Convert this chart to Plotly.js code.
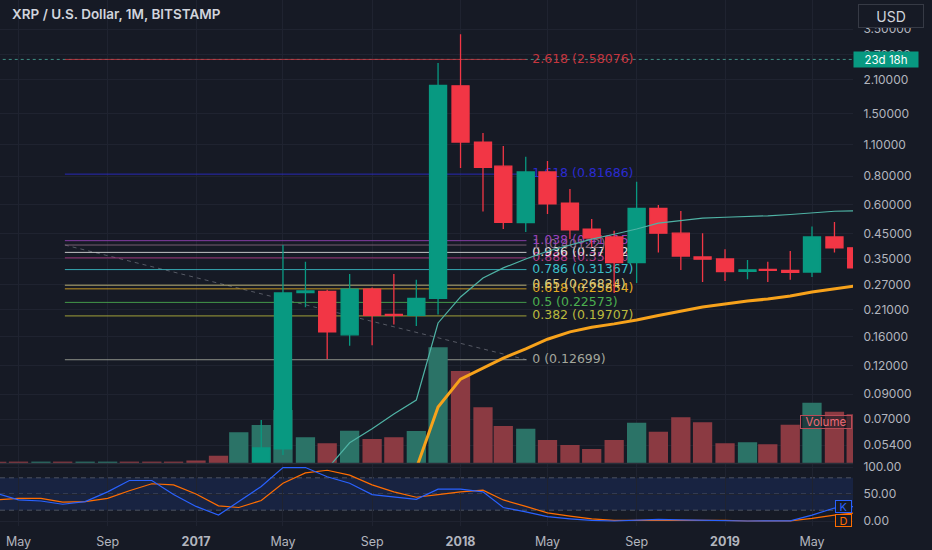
<!DOCTYPE html>
<html><head><meta charset="utf-8">
<script src="https://cdn.plot.ly/plotly-3.0.1.min.js"></script>
<style>html,body{margin:0;padding:0;background:#161a25;}#chart{width:932px;height:550px;}</style>
</head><body><div id="chart"></div>
<script>
// ---- data (monthly, XRP/USD Bitstamp) ----
const months = ['2016-04-01','2016-05-01','2016-06-01','2016-07-01','2016-08-01','2016-09-01','2016-10-01','2016-11-01','2016-12-01',
  '2017-01-01','2017-02-01','2017-03-01','2017-04-01','2017-05-01','2017-06-01','2017-07-01','2017-08-01','2017-09-01','2017-10-01','2017-11-01','2017-12-01',
  '2018-01-01','2018-02-01','2018-03-01','2018-04-01','2018-05-01','2018-06-01','2018-07-01','2018-08-01','2018-09-01','2018-10-01','2018-11-01','2018-12-01',
  '2019-01-01','2019-02-01','2019-03-01','2019-04-01','2019-05-01','2019-06-01','2019-07-01'];
const openP  = [.0068,.0064,.0060,.0066,.0062,.0064,.0080,.0075,.0072, .0065,.0063,.0060,.0230,.0520,.249,.252,.163,.258,.200,.198,.235, 1.98,1.127,.885,.503,.835,.610,.471,.435,.336,.580,.452,.356, .349,.308,.314,.311,.306,.435,.390];
const highP  = [.0075,.0070,.0072,.0070,.0068,.0090,.0085,.0092,.0078, .0070,.0066,.0290,.0694,.401,.339,.256,.300,.262,.300,.283,2.49, 3.32,1.234,1.083,.972,.932,.704,.521,.463,.757,.600,.565,.452, .385,.345,.339,.378,.483,.505,.400];
const lowP   = [.0062,.0057,.0058,.0060,.0058,.0060,.0070,.0070,.0062, .0058,.0058,.0055,.0200,.0489,.215,.128,.146,.147,.181,.178,.200, .869,.561,.471,.457,.548,.426,.393,.248,.274,.372,.312,.277, .280,.285,.277,.283,.291,.372,.310];
const closeP = [.0064,.0060,.0066,.0062,.0064,.0080,.0073,.0072,.0065, .0063,.0060,.0230,.0524,.248,.253,.168,.258,.198,.198,.235,1.99, 1.127,.875,.504,.835,.607,.467,.430,.336,.580,.452,.359,.348, .307,.313,.311,.305,.435,.390,.319];
const volume = [50,55,55,55,55,55,55,55,55, 100,290,1230,1520,2120,1030,790,1290,960,1030,1280,4630, 3680,2230,1480,1370,920,720,560,920,1610,1250,1830,1630, 790,830,750,1530,2410,2050,1950];
const maFast = [null,null,null,null,null,null,null,null,null, null,null,null,null,null,null,.0425,.0552,.0635,.0737,.0848,.1836, .2383,.2884,.319,.349,.377,.402,.426,.447,.471,.500,.512,.525, .530,.533,.538,.545,.555,.563,.566];
const maSlow = [null,null,null,null,null,null,null,null,null, null,null,null,null,null,null,null,null,null,null,.0427,.0791, .1046,.117,.1291,.1415,.156,.168,.176,.182,.1892,.198,.2072,.2156, .222,.2289,.2335,.2407,.2506,.2585,.2664];
const stochK = [51,39,37,31,36,54,75,75,49, 27,11,36,64,99,99,82,70,49,45,40,59, 59,54,25,17,8,4,1,0,2,3,2,1, 0,0,0.3,0.3,11,24,27];
const stochD = [39,42,42,35,36,42,56,69,67, 50,28,25,38,70,89,94,85,67,54,44,49, 54,57,39,27,15,9,4,1,1,2,2,1, 1,0,0,0.2,5,11,15];
const fibLevels = [0, 0.382, 0.5, 0.618, 0.65, 0.786, 0.888, 0.936, 1, 1.038, 1.618, 2.618];
const fibPrices = [0.12699, 0.19707, 0.22573, 0.25854, 0.26824, 0.31367, 0.35270, 0.37272, 0.40122, 0.41915, 0.81686, 2.58076];
const fibColors = ['#a3a69c','#b9b93e','#4caf50','#e3ab22','#d8ca80','#3cbfc9','#b63c88','#e2e2e2','#8a6a80','#9a42bb','#2b2bd0','#c4363f'];
const fibStart = '2016-07-04', fibEnd = '2018-04-02', fibLabelAt = '2018-04-10';
const priceTicks = [0.054,0.07,0.09,0.12,0.16,0.21,0.27,0.35,0.45,0.6,0.8,1.1,1.5,2.1,2.7,3.5];
const timeTicks = ['2016-05-01','2016-09-01','2017-01-01','2017-05-01','2017-09-01','2018-01-01','2018-05-01','2018-09-01','2019-01-01','2019-05-01'];
const timeTickText = ['May','Sep','<b>2017</b>','May','Sep','<b>2018</b>','May','Sep','<b>2019</b>','May'];
const stochTicks = [0,50,100];
const stochBands = [20,50,80];

// ---- traces ----
const traces = [];
traces.push({type:'scatter',mode:'lines',x:[months[0],months[months.length-1]],y:[fibPrices[11],fibPrices[11]],
  line:{color:'#3f8d84',width:1,dash:'dot'},xaxis:'x',yaxis:'y',hoverinfo:'skip'});
traces.push({type:'scatter',mode:'lines',x:[fibStart,fibEnd],y:[fibPrices[8],fibPrices[0]],
  line:{color:'rgba(120,123,134,0.65)',width:1,dash:'4px,4px'},xaxis:'x',yaxis:'y',hoverinfo:'skip'});
fibLevels.forEach((lv,i)=>{
  traces.push({type:'scatter',mode:'lines',x:[fibStart,fibEnd],y:[fibPrices[i],fibPrices[i]],
    line:{color:fibColors[i],width:1},opacity:0.85,xaxis:'x',yaxis:'y',hoverinfo:'skip'});
});
fibLevels.forEach((lv,i)=>{
  traces.push({type:'scatter',mode:'text',x:[fibLabelAt],y:[fibPrices[i]],text:[lv+' ('+fibPrices[i].toFixed(5)+')'],
    textposition:'middle right',textfont:{family:'DejaVu Sans, sans-serif',size:12.5,color:fibColors[i]},
    xaxis:'x',yaxis:'y',hoverinfo:'skip',cliponaxis:false});
});
traces.push({type:'bar',x:months,y:volume,xaxis:'x',yaxis:'y2',hoverinfo:'skip',
  marker:{color:closeP.map((c,i)=>c>=openP[i]?'#2b7367':'#8b3a42'),line:{width:0}}});
traces.push({type:'candlestick',x:months,open:openP,high:highP,low:lowP,close:closeP,xaxis:'x',yaxis:'y3',hoverinfo:'skip',
  whiskerwidth:0,
  increasing:{line:{color:'#089981',width:1.3},fillcolor:'#089981'},
  decreasing:{line:{color:'#f23645',width:1.3},fillcolor:'#f23645'}});
traces.push({type:'scatter',mode:'lines',x:months,y:maFast,xaxis:'x',yaxis:'y3',line:{color:'#4fb3a5',width:1.2},hoverinfo:'skip'});
traces.push({type:'scatter',mode:'lines',x:months,y:maSlow,xaxis:'x',yaxis:'y3',line:{color:'#f7a21b',width:3},hoverinfo:'skip'});
traces.push({type:'scatter',mode:'lines',x:months,y:stochD,xaxis:'x',yaxis:'y4',line:{color:'#ff6d00',width:1.2},hoverinfo:'skip'});
traces.push({type:'scatter',mode:'lines',x:months,y:stochK,xaxis:'x',yaxis:'y4',line:{color:'#2962ff',width:1.2},hoverinfo:'skip'});

const logTop = 0.6706, logBot = -1.3459;
const grid = '#1f2330';
const shapes = [
  {type:'rect',xref:'paper',x0:0,x1:1,yref:'y4',y0:stochBands[0],y1:stochBands[2],fillcolor:'rgba(41,98,255,0.13)',line:{width:0},layer:'below'},
  ...stochBands.map(b=>({type:'line',xref:'paper',x0:0,x1:1,yref:'y4',y0:b,y1:b,line:{color:'rgba(120,123,134,0.55)',width:1,dash:'5px,4px'},layer:'below'})),
  {type:'line',xref:'paper',x0:0,x1:1,yref:'paper',y0:0.1189,y1:0.1189,line:{color:'#2a2e39',width:1.5}}
];
const annotations = [
  {xref:'paper',yref:'paper',x:0.0117,y:0.9734,xanchor:'left',yanchor:'middle',showarrow:false,
   text:'XRP / U.S. Dollar, 1M, BITSTAMP',font:{family:'Inter, sans-serif',size:13.5,color:'#d1d4dc',weight:600}},
  {xref:'paper',yref:'paper',x:1.0446,y:0.9705,xanchor:'center',yanchor:'middle',showarrow:false,text:'USD',
   font:{family:'Inter, sans-serif',size:14,color:'#d1d4dc'},bgcolor:'#161a25',bordercolor:'#363a45',borderwidth:1,width:62,height:20},
  {xref:'paper',yref:'y',x:1,y:Math.log10(fibPrices[11]),xanchor:'left',yanchor:'middle',showarrow:false,text:'23d 18h',
   font:{family:'Inter, sans-serif',size:11.5,color:'#ffffff'},bgcolor:'#089981',width:62,height:13,borderpad:1},
  {xref:'paper',yref:'paper',x:0.9684,y:0.1977,xanchor:'center',yanchor:'middle',showarrow:false,text:'Volume',
   font:{family:'Inter, sans-serif',size:11.5,color:'#ee6b76'},bgcolor:'rgba(22,26,37,0.6)',bordercolor:'#b84b57',borderwidth:1,width:48,height:10},
  {xref:'paper',yref:'paper',x:0.9889,y:0.0380,xanchor:'center',yanchor:'middle',showarrow:false,text:'K',
   font:{family:'Inter, sans-serif',size:11,color:'#2962ff'},bgcolor:'#161a25',bordercolor:'#2962ff',borderwidth:1,width:13,height:9},
  {xref:'paper',yref:'paper',x:0.9883,y:0.0105,xanchor:'center',yanchor:'middle',showarrow:false,text:'D',
   font:{family:'Inter, sans-serif',size:11,color:'#ff6d00'},bgcolor:'#161a25',bordercolor:'#ff6d00',borderwidth:1,width:13,height:9}
];
const layout = {
  width:932,height:550,paper_bgcolor:'#161a25',plot_bgcolor:'#161a25',
  margin:{l:0,r:79,t:0,b:24},showlegend:false,
  font:{family:'Inter, sans-serif',color:'#b2b5be',size:12},
  boxgap:0.16,boxgroupgap:0,bargap:0.05,
  xaxis:{type:'date',range:['2016-04-05 12:00','2019-06-26 14:00'],tickvals:timeTicks,ticktext:timeTickText,
    showgrid:true,gridcolor:grid,zeroline:false,showline:false,ticks:'outside',ticklen:4,tickcolor:'rgba(0,0,0,0)',anchor:'y4',
    rangeslider:{visible:false},tickfont:{size:12.5,color:'#b2b5be'},fixedrange:true},
  yaxis:{type:'log',domain:[0.1198,1],range:[logBot,logTop],side:'right',tickvals:priceTicks,
    ticktext:priceTicks.map(v=>v.toFixed(5)),gridcolor:grid,showline:false,zeroline:false,
    ticks:'outside',ticklen:7,tickcolor:'rgba(0,0,0,0)',anchor:'x',tickfont:{size:12,color:'#b2b5be'},fixedrange:true},
  yaxis2:{overlaying:'y',range:[0,18520],visible:false,fixedrange:true},
  yaxis3:{overlaying:'y',type:'log',range:[logBot,logTop],visible:false,fixedrange:true},
  yaxis4:{domain:[0,0.1179],range:[-9.26,105.6],side:'right',tickvals:stochTicks,ticktext:stochTicks.map(v=>v.toFixed(2)),
    gridcolor:grid,showline:false,zeroline:false,ticks:'outside',ticklen:7,tickcolor:'rgba(0,0,0,0)',anchor:'x',
    tickfont:{size:12,color:'#b2b5be'},fixedrange:true},
  shapes:shapes,annotations:annotations
};
Plotly.newPlot('chart',traces,layout,{displayModeBar:false,staticPlot:true});
</script></body></html>
